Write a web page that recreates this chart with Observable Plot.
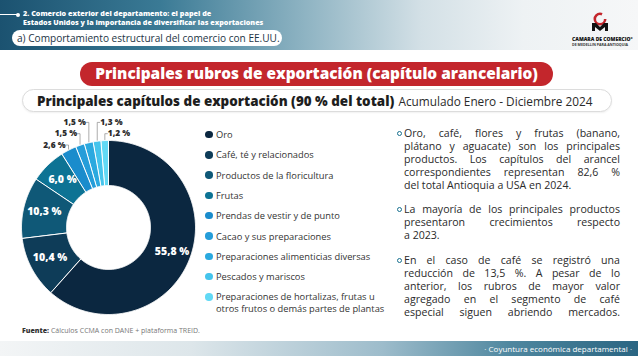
<!DOCTYPE html>
<html>
<head>
<meta charset="utf-8">
<script src="https://cdn.jsdelivr.net/npm/d3@7"></script>
<script src="https://cdn.jsdelivr.net/npm/@observablehq/plot@0.6"></script>
<style>
  html, body { margin: 0; padding: 0; }
  body { width: 638px; height: 356px; position: relative; overflow: hidden; background: #fff; font-family: "Open Sans", "DejaVu Sans", sans-serif; color: #2b2b2b; }
  .abs { position: absolute; }
  #header { left: 0; top: 0; width: 638px; height: 50px; background: linear-gradient(90deg, #1b5270 0%, #3a7a95 25%, #8fb4c3 48%, #d3e0e6 66%, #eef2f4 82%, #f6f7f8 100%); }
  #hline { left: 0; top: 14px; width: 17px; height: 1px; background: #fff; }
  #hdot { left: 16px; top: 12.5px; width: 4px; height: 4px; border-radius: 50%; background: #fff; }
  #htitle { left: 23px; top: 9px; color: #fff; font-weight: 800; font-size: 7.2px; line-height: 8.5px; }
  #hpill { left: 12px; top: 30px; width: 270px; height: 16px; border-radius: 8px; background: #fff; color: #1d3445; font-size: 10.1px; line-height: 16px; box-sizing: border-box; padding-left: 5px; white-space: nowrap; }
  #logo { left: 572px; top: 12px; width: 56px; height: 36px; text-align: center; }
  #logo .t1 { font-size: 5px; font-weight: 800; color: #111; line-height: 5.5px; white-space: nowrap; }
  #logo .t2 { font-size: 3.6px; font-weight: 700; color: #333; line-height: 4px; white-space: nowrap; }
  #redpill { left: 80px; top: 62px; width: 473px; height: 24px; border-radius: 12px; background: #c3262c; color: #fff; font-weight: 800; font-size: 15.4px; line-height: 24px; text-align: center; white-space: nowrap; }
  #subpill { left: 22px; top: 89px; width: 590px; height: 23px; border-radius: 11.5px; border: 1px solid #dcdcdc; box-sizing: border-box; background: #fff; line-height: 21px; padding-left: 14px; white-space: nowrap; box-shadow: 0 1px 2px rgba(0,0,0,0.06); }
  #subpill b { font-weight: 800; font-size: 13.4px; color: #1e1e1e; }
  #subpill span { font-size: 11.8px; color: #2b2b2b; }
  #chart { left: 0; top: 112px; }
  .leg { position: absolute; left: 205px; font-size: 9.3px; color: #333; line-height: 11px; white-space: nowrap; }
  .leg i { position: absolute; left: 0; top: 1.75px; width: 7.5px; height: 7.5px; border-radius: 50%; }
  .leg.multi { line-height: 12.7px; }
  .leg.multi i { top: 2.6px; }
  .leg div { padding-left: 11px; }
  .para { position: absolute; left: 404px; width: 216px; font-size: 10.6px; line-height: 13px; color: #2a2a2a; }
  .para .ln { text-align: justify; text-align-last: justify; white-space: nowrap; }
  .para .ln.last { text-align-last: left; }
  .para .bul { position: absolute; left: -7px; top: 4.5px; width: 3px; height: 3px; border-radius: 50%; border: 1.3px solid #18708f; }
  #fuente { left: 22px; top: 326px; font-size: 7px; color: #777; white-space: nowrap; }
  #fuente b { color: #333; font-weight: 800; }
  #footer { left: 0; top: 341px; width: 638px; height: 15px; background: linear-gradient(90deg, #f3f5f6 0%, #dde6ea 30%, #9dbccb 60%, #4f879f 80%, #2a6582 100%); }
  #footer div { position: absolute; right: 6px; top: 2px; color: #fff; font-size: 8px; }
</style>
</head>
<body>
<div id="header" class="abs"></div>
<div id="hline" class="abs"></div>
<div id="hdot" class="abs"></div>
<div id="htitle" class="abs">2. Comercio exterior del departamento: el papel de<br>Estados Unidos y la importancia de diversificar las exportaciones</div>
<div id="hpill" class="abs">a) Comportamiento estructural del comercio con EE.UU.</div>
<div id="logo" class="abs">
  <svg width="22" height="20" viewBox="0 0 22 20">
    <circle cx="11" cy="7" r="5.2" fill="none" stroke="#c3262c" stroke-width="2.6" stroke-dasharray="26 7"/>
    <path d="M3 19 L3 11 L7 11 L11 15 L15 11 L19 11 L19 19 L16 19 L16 15 L11 19 L6 15 L6 19 Z" fill="#111"/>
  </svg>
  <div class="t1">CAMARA DE COMERCIO°</div>
  <div class="t2">DE MEDELLIN PARA ANTIOQUIA</div>
</div>
<div id="redpill" class="abs">Principales rubros de exportación (capítulo arancelario)</div>
<div id="subpill" class="abs"><b>Principales capítulos de exportación (90 % del total)</b> <span>Acumulado Enero - Diciembre 2024</span></div>
<div id="chart" class="abs"></div>
<div id="legend"></div>
<div id="text"></div>
<div id="fuente" class="abs"><b>Fuente:</b> Cálculos CCMA con DANE + plataforma TREID.</div>
<div id="footer" class="abs"><div>· Coyuntura económica departamental ·</div></div>
<script>
// ---- data ----
const categories = [
  "Oro",
  "Café, té y relacionados",
  "Productos de la floricultura",
  "Frutas",
  "Prendas de vestir y de punto",
  "Cacao y sus preparaciones",
  "Preparaciones alimenticias diversas",
  "Pescados y mariscos",
  "Preparaciones de hortalizas, frutas u otros frutos o demás partes de plantas"
];
const shares = [55.8, 10.4, 10.3, 6.0, 2.6, 1.5, 1.5, 1.3, 1.2];
const colors = ["#0b2740", "#0e3c58", "#0f5877", "#0d7394", "#1a8ccc", "#259dd9", "#2ba9df", "#45c4ec", "#62d9f5"];
const legendLines = [
  ["Oro"], ["Café, té y relacionados"], ["Productos de la floricultura"], ["Frutas"],
  ["Prendas de vestir y de punto"], ["Cacao y sus preparaciones"], ["Preparaciones alimenticias diversas"],
  ["Pescados y mariscos"], ["Preparaciones de hortalizas, frutas u", "otros frutos o demás partes de plantas"]
];
const paragraphs = [
  ["Oro, café, flores y frutas (banano,", "plátano y aguacate) son los principales", "productos. Los capítulos del arancel", "correspondientes representan 82,6 %", "del total Antioquia a USA en 2024."],
  ["La mayoría de los principales productos", "presentaron crecimientos respecto", "a 2023."],
  ["En el caso de café se registró una", "reducción de 13,5 %. A pesar de lo", "anterior, los rubros de mayor valor", "agregado en el segmento de café", "especial siguen abriendo mercados."]
];

// ---- geometry ----
const R = 87, r0 = 42;
const total = d3.sum(shares);
const fmt = v => v.toFixed(1).replace(".", ",") + " %";
let cum = 0;
const slices = categories.map((c, i) => {
  const a0 = cum / total * 2 * Math.PI;
  cum += shares[i];
  const a1 = cum / total * 2 * Math.PI;
  return {cat: c, value: shares[i], a0, a1, mid: (a0 + a1) / 2, i};
});
const poly = [];
for (const s of slices) {
  const n = Math.max(2, Math.ceil((s.a1 - s.a0) / (Math.PI / 360)));
  for (let k = 0; k <= n; k++) {
    const a = s.a0 + (s.a1 - s.a0) * k / n;
    poly.push({cat: s.cat, x: R * Math.sin(a), y: R * Math.cos(a)});
  }
  for (let k = n; k >= 0; k--) {
    const a = s.a0 + (s.a1 - s.a0) * k / n;
    poly.push({cat: s.cat, x: r0 * Math.sin(a), y: r0 * Math.cos(a)});
  }
}
const inside = slices.filter(s => s.value >= 5).map(s => {
  const rr = s.i === 0 ? 68 : 66;
  return {x: rr * Math.sin(s.mid), y: rr * Math.cos(s.mid), label: fmt(s.value)};
});
const small = slices.filter(s => s.value < 5);
const nRight = 2;
const outer = small.map((s, j) => {
  const right = j >= small.length - nRight;
  const level = right ? (small.length - 1 - j) + 1 : j;
  const ox = (R + 1) * Math.sin(s.mid), oy = (R + 1) * Math.cos(s.mid);
  const ly = 82.5 + 11.3 * level;
  const tx = right ? ox + 3 : ox - 3;
  return {cat: s.cat, right, ox, oy, ly, tx, label: fmt(s.value)};
});
const leaders = outer.flatMap(o => [
  {cat: o.cat, x: o.ox, y: o.oy},
  {cat: o.cat, x: o.ox, y: o.ly},
  {cat: o.cat, x: o.right ? o.tx - 0.5 : o.tx + 0.5, y: o.ly}
]);

const W = 216, H = 216;
const chart = Plot.plot({
  width: W, height: H,
  margin: 0,
  x: {domain: [-108, 108], axis: null},
  y: {domain: [-101, 115], axis: null},
  color: {domain: categories, range: colors},
  style: {fontFamily: "'Open Sans', sans-serif", background: "transparent", overflow: "visible"},
  marks: [
    Plot.line(poly, {x: "x", y: "y", z: "cat", fill: "cat", stroke: "white", strokeWidth: 1, curve: "linear-closed"}),
    Plot.text(inside, {x: "x", y: "y", text: "label", fill: "white", fontWeight: 800, fontSize: 10.5}),
    Plot.line(leaders, {x: "x", y: "y", z: "cat", stroke: "#8a8a8a", strokeWidth: 0.7}),
    Plot.text(outer.filter(o => !o.right), {x: "tx", y: "ly", text: "label", textAnchor: "end", fill: "#2b2b2b", fontWeight: 800, fontSize: 8.3}),
    Plot.text(outer.filter(o => o.right), {x: "tx", y: "ly", text: "label", textAnchor: "start", fill: "#2b2b2b", fontWeight: 800, fontSize: 8.3})
  ]
});
document.getElementById("chart").appendChild(chart);

// ---- legend ----
const leg = document.getElementById("legend");
legendLines.forEach((lines, i) => {
  const el = document.createElement("div");
  el.className = "leg" + (lines.length > 1 ? " multi" : "");
  el.style.top = (129 + 20.3 * i - (lines.length > 1 ? 0.85 : 0)) + "px";
  el.innerHTML = `<i style="background:${colors[i]}"></i><div>${lines.join("<br>")}</div>`;
  leg.appendChild(el);
});

// ---- text ----
const tops = [126.5, 202.5, 253.5];
const tx = document.getElementById("text");
paragraphs.forEach((lines, p) => {
  const el = document.createElement("div");
  el.className = "para";
  el.style.top = tops[p] + "px";
  el.innerHTML = `<span class="bul"></span>` + lines.map((l, k) =>
    `<div class="ln${k === lines.length - 1 && p !== 2 ? " last" : ""}">${l}</div>`).join("");
  tx.appendChild(el);
});
</script>
</body>
</html>
